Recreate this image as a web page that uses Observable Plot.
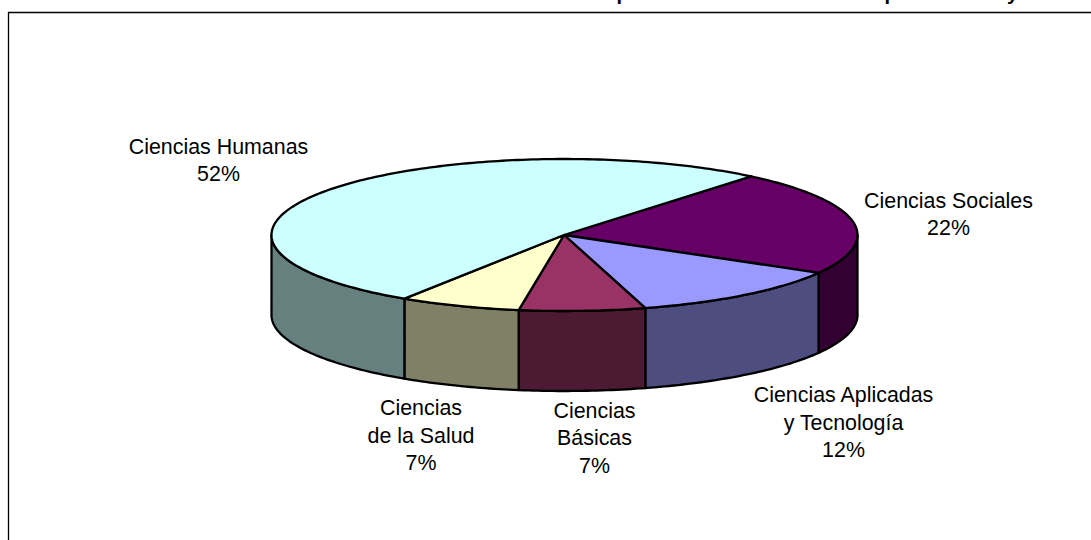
<!DOCTYPE html>
<html>
<head>
<meta charset="utf-8">
<script src="https://cdn.jsdelivr.net/npm/d3@7"></script>
<script src="https://cdn.jsdelivr.net/npm/@observablehq/plot@0.6"></script>
<style>html,body{margin:0;padding:0;background:#fff;overflow:hidden}</style>
</head>
<body>
<div id="chart"></div>
<script>
// Data, clockwise from the first slice (labels show the rounded percentages)
const categories = ["Ciencias Sociales", "Ciencias Aplicadas\ny Tecnología", "Ciencias\nBásicas", "Ciencias\nde la Salud", "Ciencias Humanas"];
const shares = [22.3, 12.25, 6.95, 6.7, 51.8];
const topColors = ["#660066", "#9999FF", "#993366", "#FFFFCC", "#CCFFFF"];
const sideColors = ["#330033", "#4D4D80", "#4D1A33", "#808066", "#668080"];
// Only the descenders of the cut-off title are visible in the picture
const titleFragments = ["p", "p", "y"];

// Layout
const W = 1091, H = 540;
const pie = {cx: 564, cy: 234.5, hubX: 563.5, rx: 293, ry: 76, depth: 80, start: 39.6};
const labelPos = [[948, 212.5], [843, 420.5], [594, 436], [420.5, 433.5], [218, 158.5]];
const titlePos = [[622, -1], [890, -1], [1012, -1]];
const frame = {left: 8, top: 12};

const pt = (deg, drop = 0) => {
  const t = deg * Math.PI / 180;
  return {x: pie.cx + pie.rx * Math.sin(t), y: pie.cy - pie.ry * Math.cos(t) + drop};
};
const arc = (a, b, drop = 0) => d3.range(0, Math.ceil(b - a) + 1).map(i => pt(a + (b - a) * i / Math.ceil(b - a), drop));

let cum = pie.start;
const slices = shares.map((v, i) => {
  const a = cum, b = cum + v * 3.6;
  cum = b;
  return {i, a, b};
});

const tops = slices.flatMap(({i, a, b}) => {
  const hub = {x: pie.hubX, y: pie.cy};
  return [hub, ...arc(a, b), hub].map(p => ({...p, key: i, color: topColors[i]}));
});
const sides = slices.flatMap(({i, a, b}) => {
  const s = Math.max(a, 90), e = Math.min(b, 270);
  if (e <= s) return [];
  const upper = arc(s, e), lower = arc(s, e, pie.depth).reverse();
  return [...upper, ...lower, upper[0]].map(p => ({...p, key: i, color: sideColors[i]}));
});
const labels = categories.map((c, i) => ({
  text: `${c}\n${Math.round(shares[i])}%`, x: labelPos[i][0], y: labelPos[i][1]
}));
const title = titleFragments.map((t, i) => ({text: t, x: titlePos[i][0], y: titlePos[i][1]}));

const poly = (data) => Plot.line(data, {
  x: "x", y: "y", z: "key", fill: "color", stroke: "#000", strokeWidth: 2.3,
  strokeLinejoin: "round", curve: "linear"
});

const chart = Plot.plot({
  width: W, height: H,
  marginTop: 0, marginRight: 0, marginBottom: 0, marginLeft: 0,
  x: {domain: [0, W], range: [0, W], axis: null},
  y: {domain: [0, H], range: [0, H], axis: null},
  color: {type: "identity"},
  style: {fontFamily: "'Liberation Sans', Arial, sans-serif", background: "#fff"},
  marks: [
    Plot.ruleX([frame.left], {y1: frame.top, y2: H, stroke: "#000", strokeWidth: 1.3}),
    Plot.ruleY([frame.top], {x1: frame.left, x2: W, stroke: "#000", strokeWidth: 1.3}),
    poly(sides),
    poly(tops),
    Plot.text(labels, {x: "x", y: "y", text: "text", fontSize: 21.4, lineHeight: 1.28, fill: "#000"}),
    Plot.text(title, {x: "x", y: "y", text: "text", fontSize: 20, fontWeight: "bold", lineAnchor: "bottom", fill: "#000"})
  ]
});
document.getElementById("chart").appendChild(chart);
</script>
</body>
</html>
